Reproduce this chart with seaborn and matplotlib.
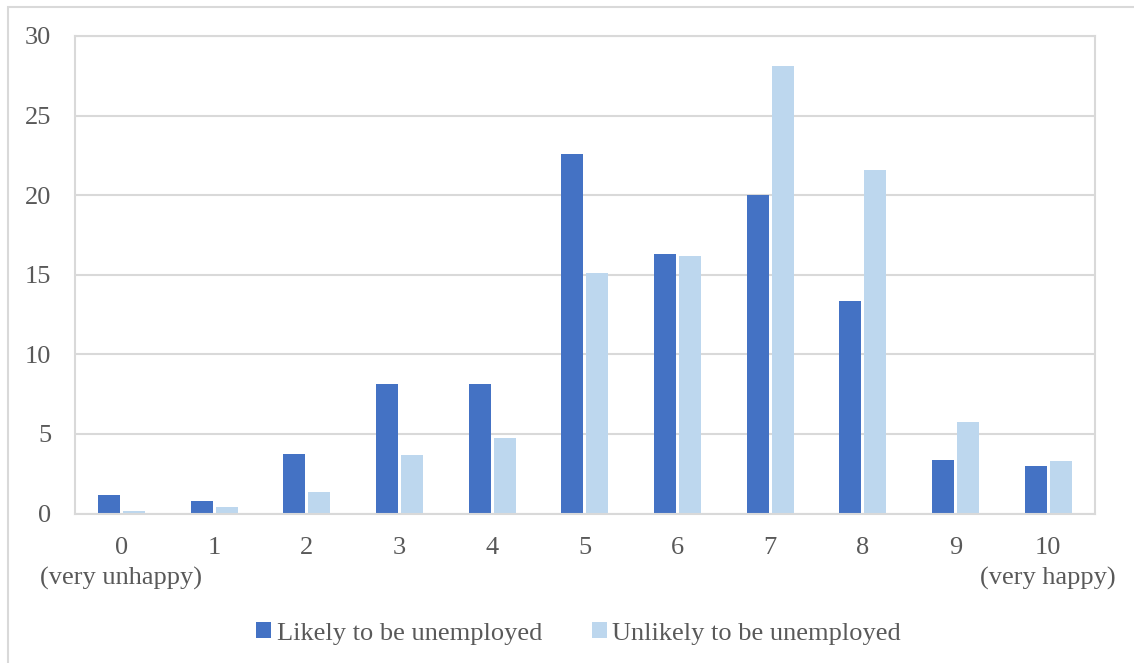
import matplotlib
matplotlib.use("Agg")
import matplotlib.pyplot as plt
import seaborn as sns
import pandas as pd
from matplotlib.patches import Rectangle

categories = ["0", "1", "2", "3", "4", "5", "6", "7", "8", "9", "10"]
tick_labels = ["0\n(very unhappy)", "1", "2", "3", "4", "5", "6", "7", "8", "9", "10\n(very happy)"]
likely = [1.14, 0.76, 3.73, 8.13, 8.13, 22.56, 16.28, 20.0, 13.32, 3.35, 2.96]
unlikely = [0.15, 0.38, 1.33, 3.69, 4.75, 15.1, 16.18, 28.13, 21.57, 5.72, 3.31]
series_names = ["Likely to be unemployed", "Unlikely to be unemployed"]

df = pd.DataFrame({
    "score": categories * 2,
    "value": likely + unlikely,
    "group": [series_names[0]] * len(categories) + [series_names[1]] * len(categories),
})

sns.set_theme(style="white")
plt.rcParams["font.family"] = ["Liberation Serif", "DejaVu Serif"]
text_color = "#595959"
grid_color = "#D9D9D9"
fs = 19

fig = plt.figure(figsize=(11.34, 6.63), dpi=100)
ax = fig.add_axes([75 / 1134, 1 - 513.5 / 663, (1094.5 - 75) / 1134, (513.5 - 36) / 663])

sns.barplot(data=df, x="score", y="value", hue="group", order=categories,
            hue_order=series_names, palette=["#4472C4", "#BDD7EE"],
            width=0.54, gap=0.12, ax=ax, errorbar=None, saturation=1,
            edgecolor="none")

ax.set_ylim(0, 30)
ax.set_yticks(range(0, 31, 5))
ax.set_xlim(-0.5, 10.5)
ax.set_xticks(range(len(categories)))
ax.set_xticklabels(tick_labels, linespacing=1.45)
ax.set_xlabel("")
ax.set_ylabel("")
ax.yaxis.grid(True, color=grid_color, linewidth=1.5)
ax.set_axisbelow(True)
for sp in ax.spines.values():
    sp.set_visible(True)
    sp.set_color(grid_color)
    sp.set_linewidth(1.5)
ax.tick_params(axis="both", length=0, labelsize=fs, labelcolor=text_color)
ax.tick_params(axis="y", pad=17)
ax.tick_params(axis="x", pad=17)

leg = ax.legend(loc="upper center", bbox_to_anchor=(0.494, -0.178), ncol=2,
                frameon=False, fontsize=fs, handlelength=0.57, handleheight=0.57,
                handletextpad=0.2, columnspacing=1.9)
for t in leg.get_texts():
    t.set_color(text_color)

fig.patches.append(Rectangle((8 / 1134, -0.1), 1.2, 1 - 7 / 663 + 0.1,
                             transform=fig.transFigure, fill=False,
                             edgecolor=grid_color, linewidth=1.5, zorder=0))

fig.savefig("out.png", dpi=100)
